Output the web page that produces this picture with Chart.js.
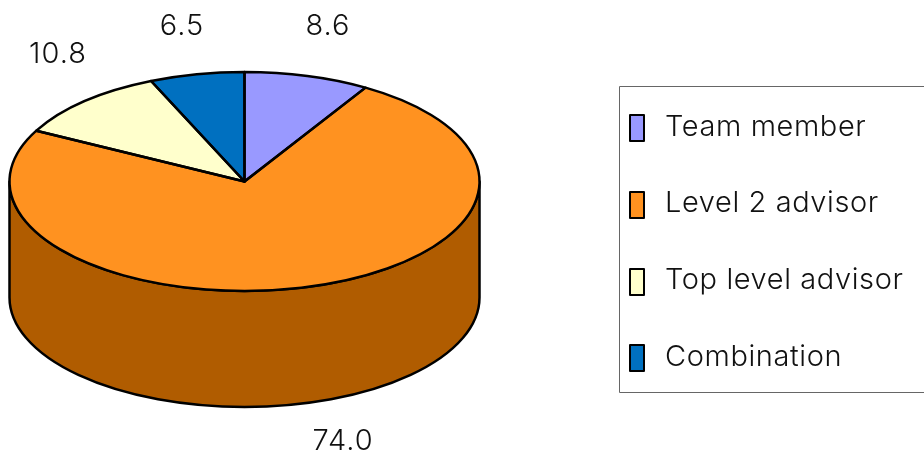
<!DOCTYPE html>
<html>
<head>
<meta charset="utf-8">
<style>
  html, body { margin: 0; padding: 0; background: #fff; overflow: hidden; }
  #pie { display: block; }
</style>
<script src="https://cdn.jsdelivr.net/npm/chart.js@4/dist/chart.umd.min.js"></script>
</head>
<body>
<canvas id="pie" width="924" height="454"></canvas>
<script>
const categories = ['Team member', 'Level 2 advisor', 'Top level advisor', 'Combination'];
const shares = [8.6, 74.0, 10.8, 6.5];
const shareLabels = ['8.6', '74.0', '10.8', '6.5'];
const sliceColors = ['#9999ff', '#ff9220', '#ffffcc', '#0070c0'];
const wallColors = ['#6b6bb3', '#b05c00', '#b3b38f', '#004e86'];

const FONT = '300 29px Inter, sans-serif';
const TEXT_COLOR = '#111';

// flattened disc: top face ellipse and height of the side wall
const disc = { x: 244.5, y: 181.5, rx: 235, ry: 109.5, depth: 116 };
const labelSpots = [[328, 26], [343, 441], [58, 54], [182, 26]];
const legendBox = { x: 619.5, y: 86.5, w: 320, h: 306 };
const legendRows = [
  { swatchY: 115, textY: 136 },
  { swatchY: 192, textY: 212 },
  { swatchY: 269, textY: 289 },
  { swatchY: 345, textY: 366 },
];

const ctx = document.getElementById('pie');

function drawWall(c, arcs) {
  arcs.forEach((arc, i) => {
    // only the part facing the viewer shows, i.e. canvas angles 0..PI
    const from = Math.max(arc.startAngle, 0);
    const to = Math.min(arc.endAngle, Math.PI);
    if (to <= from) return;
    c.beginPath();
    c.ellipse(disc.x, disc.y, disc.rx, disc.ry, 0, from, to);
    c.ellipse(disc.x, disc.y + disc.depth, disc.rx, disc.ry, 0, to, from, true);
    c.closePath();
    c.fillStyle = wallColors[i];
    c.fill();
    c.stroke();
  });
}

const flatDisc = {
  id: 'flatDisc',
  beforeDatasetsDraw(chart) {
    const c = chart.ctx;
    const arcs = chart.getDatasetMeta(0).data;
    c.lineWidth = 2.5;
    c.strokeStyle = '#000';
    c.lineJoin = 'round';
    drawWall(c, arcs);

    // squash the library's round pie into the top face
    const { x, y, outerRadius } = arcs[0];
    c.save();
    c.translate(disc.x, disc.y);
    c.scale(disc.rx / outerRadius, disc.ry / outerRadius);
    c.translate(-x, -y);
  },
  afterDatasetsDraw(chart) {
    const c = chart.ctx;
    c.restore();

    // outlines go on afterwards so the line width isn't squashed too
    chart.getDatasetMeta(0).data.forEach((arc) => {
      c.beginPath();
      c.moveTo(disc.x, disc.y);
      c.ellipse(disc.x, disc.y, disc.rx, disc.ry, 0, arc.startAngle, arc.endAngle);
      c.closePath();
      c.stroke();
    });
  },
  afterDraw(chart) {
    const c = chart.ctx;
    c.save();
    c.font = FONT;
    c.fillStyle = TEXT_COLOR;
    c.textAlign = 'center';
    c.textBaseline = 'middle';
    c.letterSpacing = '1px';
    shareLabels.forEach((text, i) => {
      c.fillText(text, labelSpots[i][0], labelSpots[i][1]);
    });

    // legend
    c.strokeStyle = '#666';
    c.lineWidth = 1;
    c.strokeRect(legendBox.x, legendBox.y, legendBox.w, legendBox.h);
    c.textAlign = 'left';
    c.textBaseline = 'alphabetic';
    c.letterSpacing = '0.6px';
    categories.forEach((name, i) => {
      const row = legendRows[i];
      c.fillStyle = sliceColors[i];
      c.strokeStyle = '#000';
      c.lineWidth = 2;
      c.fillRect(630, row.swatchY, 14, 26);
      c.strokeRect(630, row.swatchY, 14, 26);
      c.fillStyle = TEXT_COLOR;
      c.fillText(name, 665, row.textY);
    });
    c.restore();
  },
};

const chart = new Chart(ctx, {
  type: 'pie',
  data: {
    labels: categories,
    datasets: [{
      data: shares,
      backgroundColor: sliceColors,
      borderWidth: 0,
    }],
  },
  options: {
    responsive: false,
    animation: false,
    events: [],
    layout: { padding: { right: 436 } },
    plugins: {
      legend: { display: false },
      tooltip: { enabled: false },
    },
  },
  plugins: [flatDisc],
});
</script>
</body>
</html>
